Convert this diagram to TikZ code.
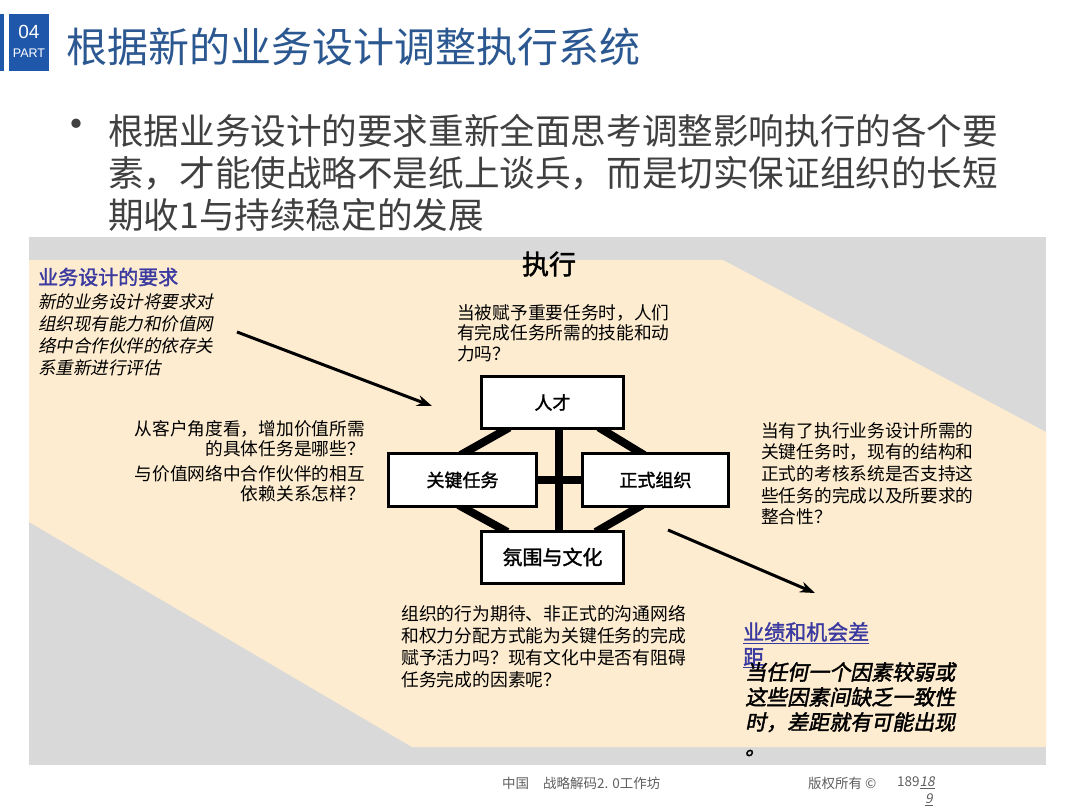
\documentclass[tikz,border=0pt]{standalone}
\usepackage{fontspec}
\setmainfont{Noto Sans CJK SC}
\newfontfamily\cjk{Noto Sans CJK SC}
\newfontfamily\cjkb{Noto Sans CJK SC}[FakeBold=1.6]
\newfontfamily\cjkit{Noto Sans CJK SC}[FakeSlant=0.2]
\newfontfamily\cjkbit{Noto Sans CJK SC}[FakeSlant=0.2,FakeBold=2]
\newfontfamily\latin{Liberation Sans}
\usetikzlibrary{arrows.meta,calc}

\definecolor{partblue}{RGB}{31,88,170}
\definecolor{titleblue}{RGB}{44,88,145}
\definecolor{bodygray}{RGB}{64,64,64}
\definecolor{panelgray}{RGB}{217,217,217}
\definecolor{panelbeige}{RGB}{253,236,208}
\definecolor{headviolet}{RGB}{58,58,160}
\definecolor{footgray}{RGB}{95,95,95}

\pgfdeclarelayer{back}
\pgfdeclarelayer{links}
\pgfsetlayers{back,links,main}

\newcommand{\setfs}[2]{\fontsize{#1}{#2}\selectfont}

\tikzset{
  block/.style={draw, line width=3pt, fill=white, minimum width=142pt, minimum height=52pt, inner sep=0pt, font=\cjkb\setfs{18}{20}},
  link/.style={line width=8pt, shorten <=-5pt, shorten >=-5pt},
  note/.style={anchor=north west, inner sep=0pt, align=left, font=\cjk\setfs{17.6}{21.5}},
  pointer/.style={line width=3pt, -{Stealth[length=15pt,width=11pt]}},
  foot/.style={anchor=west, inner sep=0pt, text=footgray, font=\cjk\setfs{13.5}{16}}
}

\begin{document}
\begin{tikzpicture}[x=1pt,y=-1pt]
	\useasboundingbox (0,0) rectangle (1080,810);
	
	% panel
	\begin{pgfonlayer}{back}
		\fill[white] (0,0) rectangle (1080,810);
		\fill[panelgray] (29,237) rectangle (1046,765);
		\fill[panelbeige] (29,260) -- (723,260) -- (1046,432) -- (1046,747) -- (412,747) -- (29,522) -- cycle;
	\end{pgfonlayer}
	
	% heading strip
	\fill[partblue] (0,14) rectangle (4,71);
	\fill[partblue] (9,14) rectangle (49,71);
	\node[text=white, font=\latin\setfs{19}{20}] (partno) at (29,32) {04};
	\node[text=white, font=\latin\setfs{12.5}{14}] (partword) at (29,53) {PART};
	\node[anchor=west, inner sep=0pt, text=titleblue, font=\cjk\setfs{41}{44}] (title) at (66,47) {根据新的业务设计调整执行系统};
	
	% bullet text
	\node[text=bodygray, font=\cjk\setfs{44}{44}] (dot) at (76,130) {•};
	\node[anchor=north west, inner sep=0pt, align=left, text=bodygray, font=\cjk\setfs{35.6}{42}] (lead) at (108,114) {根据业务设计的要求重新全面思考调整影响执行的各个要\\素，才能使战略不是纸上谈兵，而是切实保证组织的长短\\期收1与持续稳定的发展};
	
	\node[font=\cjkb\setfs{27}{30}] (exec) at (549,264) {执行};
	
	% the four boxes
	\node[block, minimum width=142pt] (talent) at (552.5,402.5) {人才};
	\node[block, minimum width=148pt] (tasks) at (462.5,480) {关键任务};
	\node[block, minimum width=146pt] (org) at (655.5,480) {正式组织};
	\node[block, font=\cjkb\setfs{20}{22}] (culture) at (552.5,557) {氛围与文化};
	
	\begin{pgfonlayer}{links}
		\draw[link] ($(talent.south)+(6.5,0)$) -- ($(culture.north)+(6.5,0)$);  % vertical 
		\draw[link] (tasks.east) -- (org.west);  % horizontal 
		\draw[link] ($(talent.south west)+(25,0)$) -- ($(tasks.north east)+(-73,0)$);
		\draw[link] ($(talent.south east)+(-22,0)$) -- ($(org.north west)+(59,0)$);
		\draw[link] ($(tasks.south east)+(-75,0)$) -- ($(culture.north west)+(23,0)$);
		\draw[link] ($(org.south west)+(57,0)$) -- ($(culture.north east)+(-25,0)$);
	\end{pgfonlayer}
	
	% notes round the boxes
	\node[anchor=west, inner sep=0pt, text=headviolet, font=\cjkb\setfs{20}{22}] (reqhead) at (38,277) {业务设计的要求};
	\node[note, font=\cjkit\setfs{17.5}{21.7}] (reqtext) at (38,294) {新的业务设计将要求对\\组织现有能力和价值网\\络中合作伙伴的依存关\\系重新进行评估};
	\node[note, font=\cjk\setfs{17.7}{20.5}] (talentq) at (457,304) {当被赋予重要任务时，人们\\有完成任务所需的技能和动\\力吗？};
	\node[note, anchor=north east, align=right, font=\cjk\setfs{17.7}{20.5}] (tasksq) at (365,420) {从客户角度看，增加价值所需\\的具体任务是哪些？\\[4pt]与价值网络中合作伙伴的相互\\依赖关系怎样？};
	\node[note, font=\cjk\setfs{17.7}{21.7}] (orgq) at (761,422) {当有了执行业务设计所需的\\关键任务时，现有的结构和\\正式的考核系统是否支持这\\些任务的完成以及所要求的\\整合性？};
	\node[note, font=\cjk\setfs{17.8}{22}] (cultureq) at (401,605) {组织的行为期待、非正式的沟通网络\\和权力分配方式能为关键任务的完成\\赋予活力吗？现有文化中是否有阻碍\\任务完成的因素呢？};
	
	\node[note, text=headviolet, font=\cjkb\setfs{21}{25}] (gaphead) at (743,622) {\underline{业绩和机会差}\\\underline{距}};
	\node[note, font=\cjkbit\setfs{21}{25}] (gaptext) at (745,662) {当任何一个因素较弱或\\这些因素间缺乏一致性\\时，差距就有可能出现\\。};
	
	% arrows
	\coordinate (reqtail) at (237,332);
	\coordinate (reqtip) at (432,406);
	\coordinate (gaptail) at (668,530);
	\coordinate (gaptip) at (815,593);
	\draw[pointer] (reqtail) -- (reqtip);
	\draw[pointer] (gaptail) -- (gaptip);
	
	% footer
	\node[foot] (country) at (502,783) {中国};
	\node[foot] (workshop) at (543,783) {战略解码2. 0工作坊};
	\node[foot] (rights) at (808,783) {版权所有 ©};
	\node[foot] (page) at (897,783) {189\underline{\cjkit 18}};
	\node[foot] (pagetail) at (925,800) {\underline{\cjkit 9}};
\end{tikzpicture}
\end{document}
